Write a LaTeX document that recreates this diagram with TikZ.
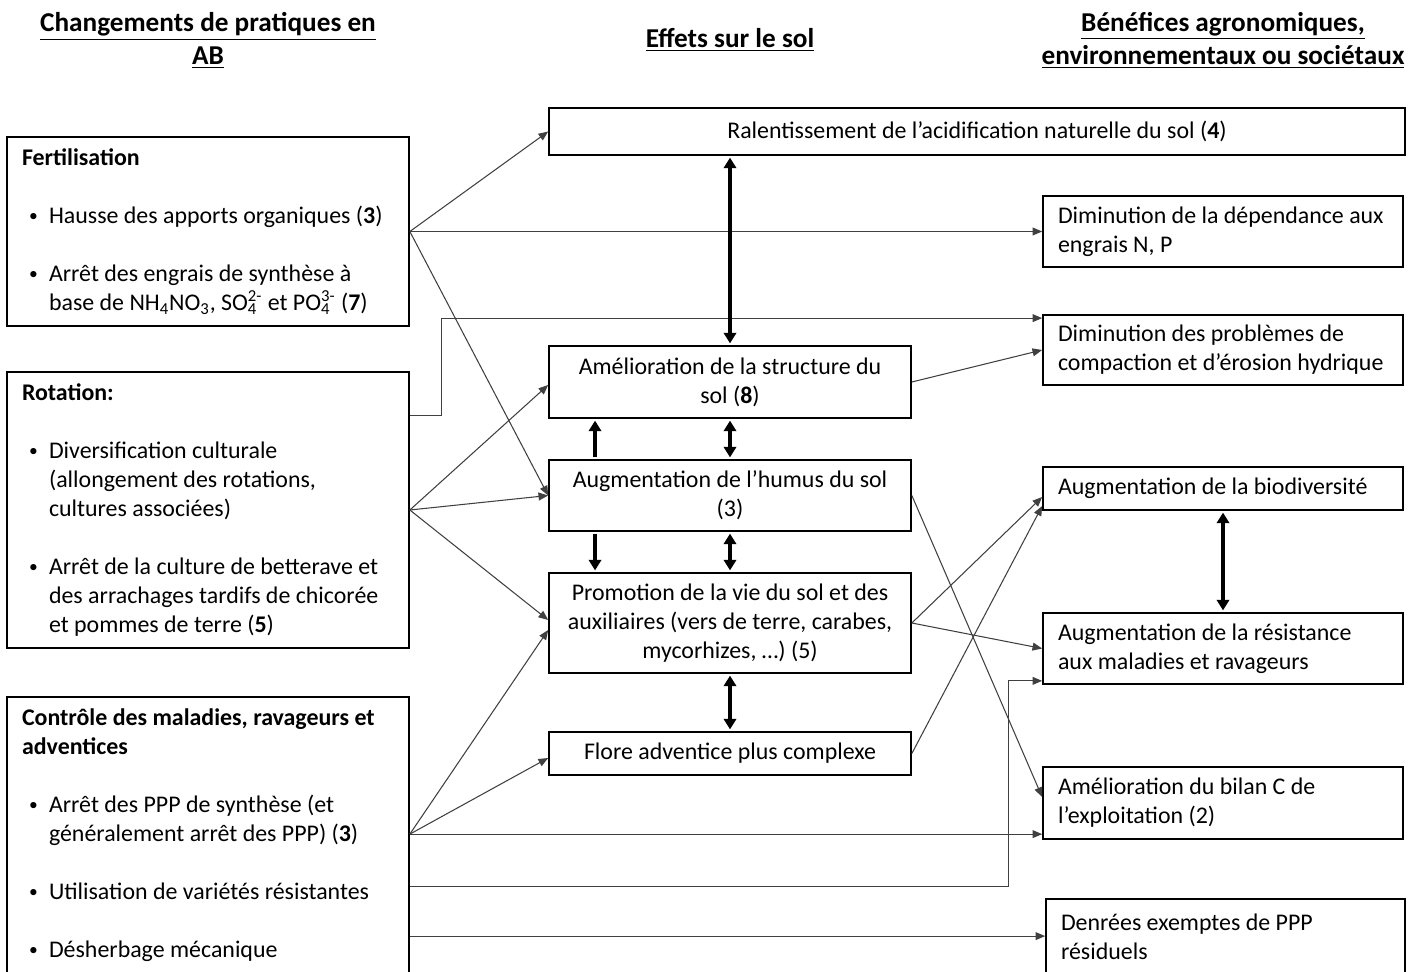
\documentclass[tikz,border=0pt]{standalone}
\usepackage{fontspec}
\setmainfont{Carlito}
\usetikzlibrary{arrows.meta,positioning}
\newcommand{\taille}{\fontsize{13.6pt}{16.5pt}\selectfont}
\newcommand{\titre}{\fontsize{15.5pt}{18.8pt}\selectfont\bfseries}
\newcommand{\puce}{\makebox[0.54cm][l]{\hspace{0.14cm}\raisebox{0.1em}{\fontsize{10pt}{10pt}\selectfont\textbullet}}}
\newcommand{\retrait}{\hspace*{0.54cm}}
\newcommand{\ionx}[2]{\makebox[0pt][l]{\textsubscript{#1}}\textsuperscript{#2}}
\begin{document}
\begin{tikzpicture}[x=0.02cm, y=-0.02cm,
    gauche/.style={draw, line width=1pt, text width=7.44cm, inner xsep=0.3cm, align=flush left, font=\taille},
    milieu/.style={draw, line width=1pt, text width=6.84cm, inner xsep=0.2cm, align=flush center, font=\taille},
    droite/.style={draw, line width=1pt, text width=6.6cm, inner xsep=0.3cm, align=flush left, font=\taille},
    entete/.style={font=\titre, align=center},
    fin/.style={-{Triangle[length=5.5pt,width=4.5pt]}, line width=0.6pt, black!75},
    gros/.style={-{Triangle[length=6pt,width=7pt]}, line width=1.8pt, shorten >=1pt, shorten <=1pt},
    gros2/.style={{Triangle[length=6pt,width=7pt]}-{Triangle[length=6pt,width=7pt]}, line width=1.8pt, shorten >=1pt, shorten <=1pt}]
\useasboundingbox (0,0) rectangle (1425,972);
\clip (0,0) rectangle (1425,972);

% titres des colonnes
\node[entete] (hprat) at (208,40.5) {\underline{Changements de pratiques en}\\\underline{AB}};
\node[entete] (hsol) at (730,40) {\underline{Effets sur le sol}};
\node[entete] (hbenef) at (1223,40.5) {\underline{Bénéfices agronomiques,}\\\underline{environnementaux ou sociétaux}};

% pratiques
\node[gauche, minimum height=3.78cm] (fert) at (208,231.5) {\textbf{Fertilisation}\\[16.5pt]
    \puce Hausse des apports organiques (\textbf{3})\\[16.5pt]
    \puce Arrêt des engrais de synthèse à\\
    \retrait base de NH\textsubscript{4}NO\textsubscript{3}, SO\ionx{4}{2-} et PO\ionx{4}{3-} (\textbf{7})};
\node[gauche, minimum height=5.52cm] (rot) at (208,510) {\textbf{Rotation:}\\[16.5pt]
    \puce Diversification culturale\\
    \retrait (allongement des rotations,\\
    \retrait cultures associées)\\[16.5pt]
    \puce Arrêt de la culture de betterave et\\
    \retrait des arrachages tardifs de chicorée\\
    \retrait et pommes de terre (\textbf{5})};
\node[gauche, minimum height=5.54cm] (ctrl) at (208,835.5) {\textbf{Contrôle des maladies, ravageurs et}\\
    \textbf{adventices}\\[16.5pt]
    \puce Arrêt des PPP de synthèse (et\\
    \retrait généralement arrêt des PPP) (\textbf{3})\\[16.5pt]
    \puce Utilisation de variétés résistantes\\[16.5pt]
    \puce Désherbage mécanique};

% effets sur le sol
\node[milieu, text width=16.72cm, minimum height=0.94cm] (acid) at (977,131.5) {Ralentissement de l’acidification naturelle du sol (\textbf{4})};
\node[milieu, minimum height=1.44cm] (struct) at (730,382) {Amélioration de la structure du\\sol (\textbf{8})};
\node[milieu, minimum height=1.42cm] (humus) at (730,495.5) {Augmentation de l’humus du sol\\(3)};
\node[milieu, minimum height=2cm] (promo) at (730,623) {Promotion de la vie du sol et des\\auxiliaires (vers de terre, carabes,\\mycorhizes, …) (5)};
\node[milieu, minimum height=0.86cm] (flore) at (730,753.5) {Flore adventice plus complexe};

% benefices
\node[droite, minimum height=1.42cm] (dep) at (1223,231.5) {\mbox{Diminution de la dépendance aux}\\engrais N, P};
\node[droite, minimum height=1.4cm] (comp) at (1223,350) {Diminution des problèmes de\\\mbox{compaction et d’érosion hydrique}};
\node[droite, minimum height=0.86cm] (bio) at (1223,488.5) {Augmentation de la biodiversité};
\node[droite, minimum height=1.42cm] (resist) at (1223,648.5) {Augmentation de la résistance\\aux maladies et ravageurs};
\node[droite, minimum height=1.44cm] (bilan) at (1223,803) {Amélioration du bilan C de\\l’exploitation (2)};
\node[droite, text width=6.58cm, minimum height=1.5cm] (denr) at (1225.5,936.5) {Denrées exemptes de PPP\\résiduels};

\coordinate (rotup) at ([yshift=-0.88cm]rot.north east);
\coordinate (ppp) at ([yshift=-2.76cm]ctrl.north east);
\coordinate (varie) at ([yshift=-3.8cm]ctrl.north east);
\coordinate (desh) at ([yshift=-4.8cm]ctrl.north east);

% liens fins
\draw[fin] (fert.east) -- (acid.west);
\draw[fin] (fert.east) -- (dep.west);
\draw[fin] (fert.east) -- (humus.west);
\draw[fin] (rotup) -- ++(32,0) |- ([yshift=-0.08cm]comp.north west);
\draw[fin] (rot.east) -- ([yshift=-0.06cm]struct.west);
\draw[fin] (rot.east) -- (humus.west);
\draw[fin] (rot.east) -- ([yshift=0.06cm]promo.west);
\draw[fin] (ppp) -- ([yshift=-0.14cm]promo.west);
\draw[fin] (ppp) -- ([yshift=-0.09cm]flore.west);
\draw[fin] (ppp) -- (ppp -| bilan.west);
\draw[fin] (varie) -- ++(599,0) |- ([yshift=0.08cm]resist.south west);
\draw[fin] (desh) -- (desh -| denr.west);
\draw[fin] (struct.east) -- (comp.west);
\draw[fin] (humus.east) -- ([yshift=0.12cm]bilan.west);
\draw[fin] (promo.east) -- ([yshift=-0.17cm]bio.west);
\draw[fin] (promo.east) -- (resist.west);
\draw[fin] (flore.east) -- ([yshift=-0.35cm]bio.west);

% liens epais
\draw[gros2] (struct.north) -- (struct.north |- acid.south);
\draw[gros2] (struct.south) -- (humus.north);
\draw[gros] ([xshift=-2.7cm]humus.north) -- ([xshift=-2.7cm]struct.south);
\draw[gros] ([xshift=-2.7cm]humus.south) -- ([xshift=-2.7cm]promo.north);
\draw[gros2] (humus.south) -- (promo.north);
\draw[gros2] (promo.south) -- (flore.north);
\draw[gros2] (bio.south) -- (resist.north);
\end{tikzpicture}
\end{document}
